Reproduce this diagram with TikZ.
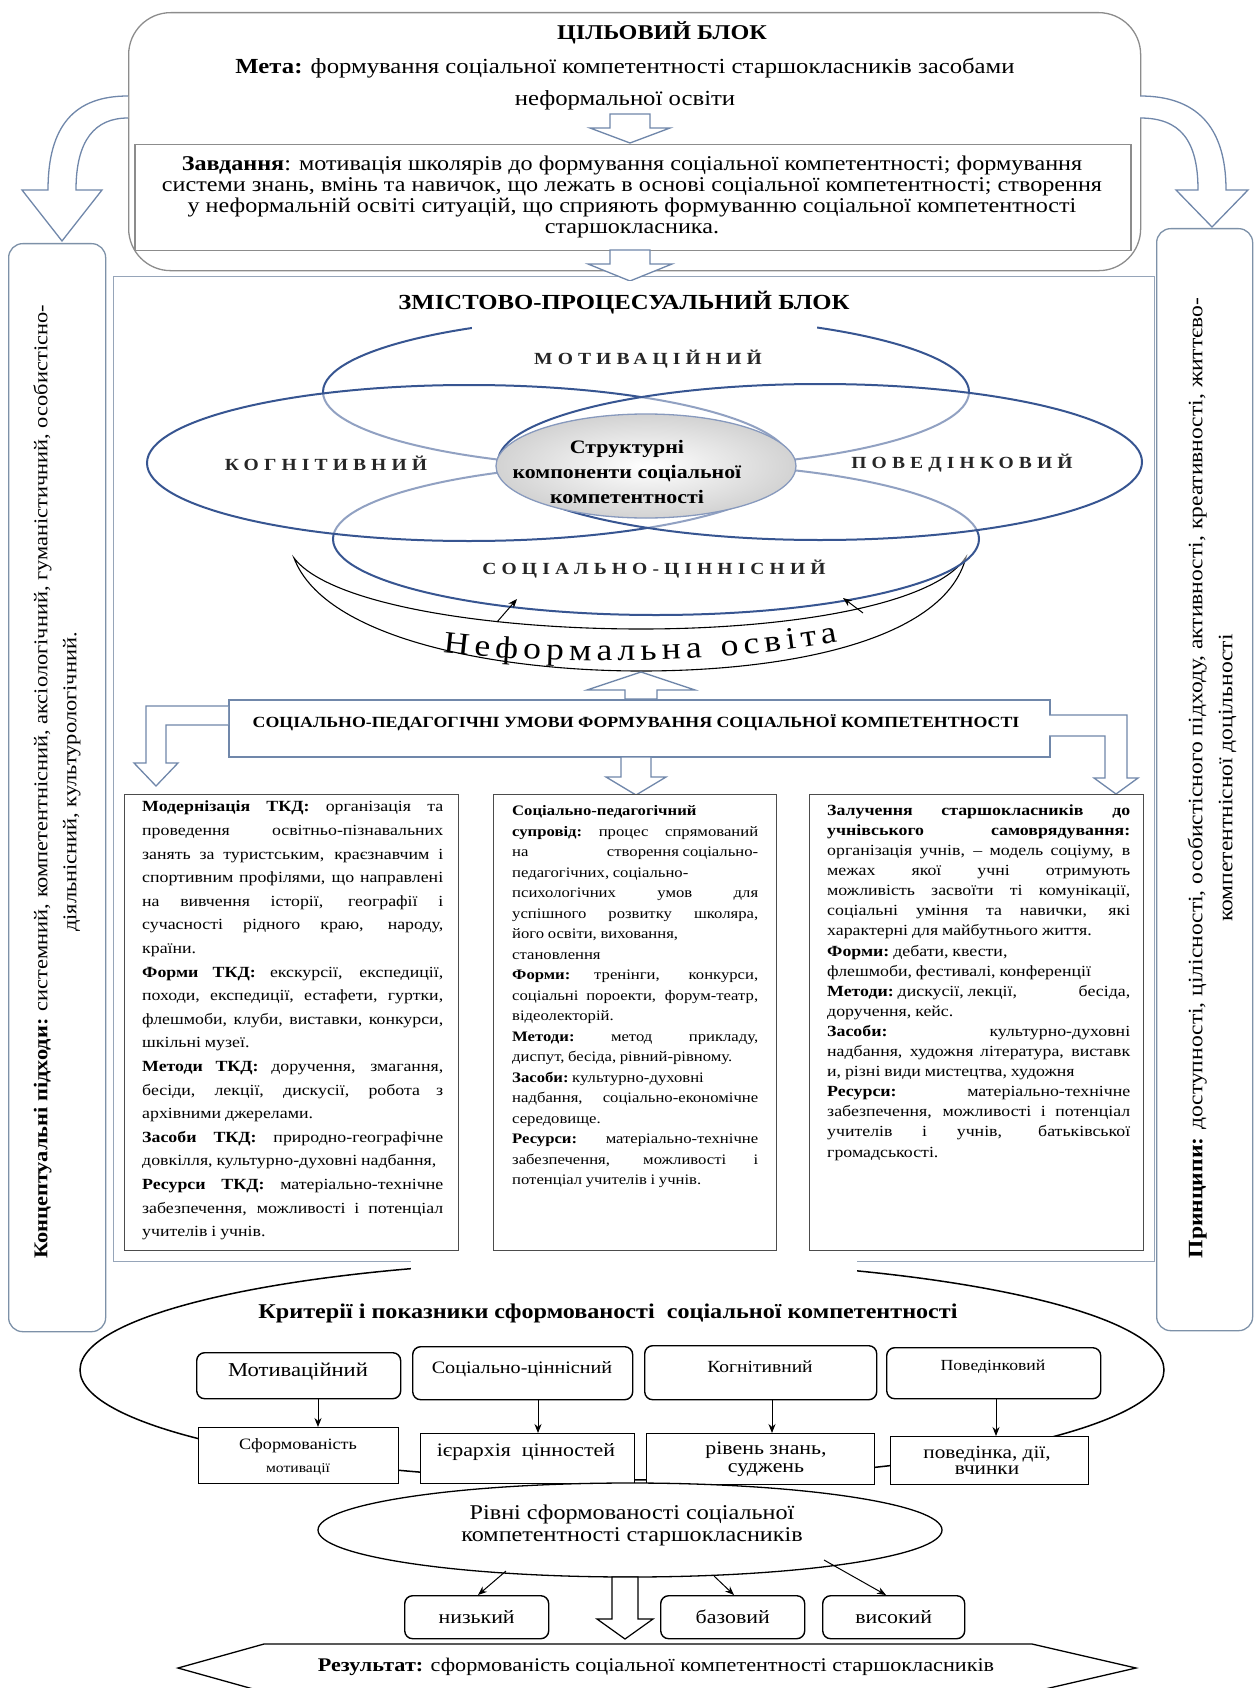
\documentclass[tikz,border=0pt]{standalone}
\usepackage{fontspec}
\setmainfont{Liberation Serif}[FakeStretch=1.15]
\newfontfamily\spacedfont[LetterSpace=30,FakeStretch=1.15]{Liberation Serif}
\usetikzlibrary{shapes.geometric,arrows.meta,decorations.text}
\definecolor{ellblue}{RGB}{55,85,145}
\definecolor{arrblue}{RGB}{112,135,170}
\definecolor{boxgray}{RGB}{140,140,140}
\definecolor{vblue}{RGB}{125,145,168}
\definecolor{contc}{RGB}{150,165,185}
\newcommand\JL[1]{\par\noindent\hbox to\hsize{\spaceskip=.25em plus 1fil minus .08em\xspaceskip=.25em plus 1fil minus .08em\relax #1}}
\newcommand\LL[1]{\par\noindent\hbox to\hsize{\spaceskip=.25em\xspaceskip=.25em\relax #1\hfill}}
\newcommand\fs[2]{\fontsize{#1}{#2}\selectfont}
\newcommand\barrowdown[7]{\draw[#7] (#1-#4,#2) -- (#1-#4,#3-#6) -- (#1-#5,#3-#6) -- (#1,#3) -- (#1+#5,#3-#6) -- (#1+#4,#3-#6) -- (#1+#4,#2) -- cycle;}
\newcommand\barrowup[7]{\draw[#7] (#1-#4,#2) -- (#1-#4,#3+#6) -- (#1-#5,#3+#6) -- (#1,#3) -- (#1+#5,#3+#6) -- (#1+#4,#3+#6) -- (#1+#4,#2) -- cycle;}
\begin{document}
\begin{tikzpicture}[x=1pt,y=-1pt,
  topbox/.style={draw=boxgray, line width=1.3pt, rounded corners=42pt, inner sep=0pt, fill=white},
  taskbox/.style={draw=boxgray, line width=1.5pt, inner sep=0pt, fill=white},
  vbox/.style={draw=vblue, line width=1.3pt, rounded corners=14pt, inner sep=0pt, fill=white},
  content/.style={draw=contc, line width=1.4pt, inner sep=0pt, fill=white},
  barrow/.style={draw=arrblue, line width=1.3pt, fill=white},
  barrowk/.style={draw=black, line width=1.2pt, fill=white},
  condbox/.style={draw=arrblue, line width=1.5pt, inner sep=0pt, fill=white},
  tbox/.style={draw=black!70, line width=1.3pt, inner sep=0pt, fill=white},
  ell/.style={shape=ellipse, draw=ellblue, line width=2pt, fill=white, fill opacity=0.45, inner sep=0pt},
  elab/.style={font={\fs{17}{19}\spacedfont\bfseries}, text=black!85},
  cbox/.style={draw=black, line width=1.4pt, rounded corners=8pt, inner sep=0pt, fill=white},
  sbox/.style={draw=black, line width=1.4pt, inner sep=0pt, fill=white},
  arr/.style={-{Stealth[length=9pt,width=7pt]}, line width=1pt, black}
]
\useasboundingbox (0,0) rectangle (1254,1688);

% ---------- goal block ----------
\node[topbox, anchor=north west, minimum width=1012pt, minimum height=258pt] (goal) at (128,12) {};
\node[font={\fs{21}{24}\bfseries}] (goalT) at (662,33) {ЦІЛЬОВИЙ БЛОК};
\node[font={\fs{21.5}{24}}] (meta) at (625,68) {\textbf{Мета:} формування соціальної компетентності старшокласників засобами};
\node[font={\fs{21.5}{24}}] (meta2) at (625,100) {неформальної освіти};
\barrowdown{630}{114}{143}{20}{40}{15}{barrow}
\node[taskbox, anchor=north west, minimum width=996pt, minimum height=106pt] (task) at (134,144) {};
\node[font={\fs{21}{21.3}}, align=center] (taskT) at (632,197) {\textbf{Завдання}: мотивація школярів до формування соціальної компетентності; формування\\системи знань, вмінь та навичок, що лежать в основі соціальної компетентності; створення\\у неформальній освіті ситуацій, що сприяють формуванню соціальної компетентності\\старшокласника.};

% ---------- side blocks ----------
\draw[barrow] (128,96) .. controls (75,96) and (48,125) .. (48,190) -- (22,190) -- (62,241) -- (102,190) -- (76,190) .. controls (76,140) and (95,118) .. (128,118);
\draw[barrow] (1140,96) .. controls (1195,96) and (1226,125) .. (1226,190) -- (1248,190) -- (1212,227) -- (1176,190) -- (1198,190) .. controls (1198,140) and (1180,118) .. (1140,118);
\node[vbox, anchor=north west, minimum width=97pt, minimum height=1088pt] (appr) at (8,243) {};
\node[rotate=90, align=center, font={\fs{19.5}{29}}] (apprT) at (57,782) {\textbf{Концептуальні підходи:} системний, компетентнісний, аксіологічний, гуманістичний, особистісно-\\діяльнісний, культурологічний.};
\node[vbox, anchor=north west, minimum width=96pt, minimum height=1102pt] (princ) at (1156,228) {};
\node[rotate=90, align=center, font={\fs{20.5}{30}}] (princT) at (1212,778) {\textbf{Принципи:} доступності, цілісності, особистісного підходу, активності, креативності, життєво-\\компетентнісної доцільності};

% ---------- content block ----------
\node[content, anchor=north west, minimum width=1041pt, minimum height=985pt] (cont) at (113,276) {};
\barrowdown{630}{250}{281}{20}{42}{17}{barrow}

% crescent
\draw[black, line width=1.1pt] (294,558) .. controls (325,640) and (500,671) .. (641,671) .. controls (790,671) and (945,640) .. (966,557) .. controls (935,605) and (790,629) .. (641,629) .. controls (490,629) and (330,605) .. (294,558) -- cycle;

% ellipses
\node[ell, minimum width=646pt, minimum height=152pt] (eTop) at (646,392) {};
\node[ell, minimum width=646pt, minimum height=152pt] (eBot) at (656,539) {};
\node[ell, minimum width=644pt, minimum height=156pt] (eLeft) at (469,463) {};
\node[ell, minimum width=644pt, minimum height=156pt] (eRight) at (820,462) {};
\node[shape=ellipse, draw=ellblue!60, line width=1.3pt, inner color=white, outer color=gray!35, minimum width=300pt, minimum height=104pt, inner sep=0pt] (eCen) at (646,466) {};
\node[font={\fs{19}{25}\bfseries}, align=center] (cenT) at (627,472) {Структурні\\компоненти соціальної\\компетентності};
\node[elab] (lMot) at (648,359) {МОТИВАЦІЙНИЙ};
\node[elab] (lKog) at (326,463) {КОГНІТИВНИЙ};
\node[elab] (lPov) at (962,463) {ПОВЕДІНКОВИЙ};
\node[elab] (lSoc) at (654,569) {СОЦІАЛЬНО-ЦІННІСНИЙ};

% title of content block
\fill[white] (472,281) rectangle (817,332);
\node[font={\fs{21.5}{24}\bfseries}] (contT) at (624,303) {ЗМІСТОВО-ПРОЦЕСУАЛЬНИЙ БЛОК};

% small arrows from crescent
\coordinate (sa1) at (497,622);
\coordinate (sa1e) at (517,599);
\coordinate (sa2) at (863,613);
\coordinate (sa2e) at (843,598);
\draw[arr] (sa1) -- (sa1e);
\draw[arr] (sa2) -- (sa2e);

% informal education text
\path[decorate, decoration={text along path, text align=fit to path, text={|\fs{31}{31}|Неформальна освіта}}] (443,652) .. controls (560,666) and (720,664) .. (838,642);

% ---------- conditions ----------
\barrowup{641}{699}{672}{16}{54}{18}{barrow}
\node[condbox, anchor=north west, minimum width=821pt, minimum height=57pt] (cond) at (228,699) {};
\node[font={\fs{15.5}{20}\bfseries}] (condT) at (636,723) {СОЦІАЛЬНО-ПЕДАГОГІЧНІ УМОВИ ФОРМУВАННЯ СОЦІАЛЬНОЇ КОМПЕТЕНТНОСТІ};
\draw[barrow] (228,706) -- (146,706) -- (146,763) -- (134,763) -- (156,786) -- (178,763) -- (166,763) -- (166,725) -- (228,725);
\draw[barrow] (1049,715) -- (1127,715) -- (1127,778) -- (1138,778) -- (1116,794) -- (1094,778) -- (1105,778) -- (1105,736) -- (1049,736);
\barrowdown{636}{757}{795}{15}{30}{18}{barrow}

% ---------- three text boxes ----------
\node[tbox, anchor=north west, minimum width=334pt, minimum height=456pt] (bL) at (124,794) {};
\node[tbox, anchor=north west, minimum width=283pt, minimum height=456pt] (bM) at (493,794) {};
\node[tbox, anchor=north west, minimum width=334pt, minimum height=456pt] (bR) at (809,794) {};

\node[anchor=north west, inner sep=0pt, text width=301pt] (tL) at (142,788) {\fs{15.5}{23.6}%
\JL{\textbf{Модернізація ТКД:} організація та}
\JL{проведення освітньо-пізнавальних}
\JL{занять за туристським, краєзнавчим і}
\JL{спортивним профілями, що направлені}
\JL{на вивчення історії, географії і}
\JL{сучасності рідного краю, народу,}
\LL{країни.}
\JL{\textbf{Форми ТКД:} екскурсії, експедиції,}
\JL{походи, експедиції, естафети, гуртки,}
\JL{флешмоби, клуби, виставки, конкурси,}
\LL{шкільні музеї.}
\JL{\textbf{Методи ТКД:} доручення, змагання,}
\JL{бесіди, лекції, дискусії, робота з}
\LL{архівними джерелами.}
\JL{\textbf{Засоби ТКД:} природно-географічне}
\LL{довкілля, культурно-духовні надбання,}
\JL{\textbf{Ресурси ТКД:} матеріально-технічне}
\JL{забезпечення, можливості і потенціал}
\LL{учителів і учнів.}\par};

\node[anchor=north west, inner sep=0pt, text width=246pt] (tM) at (512,795) {\fs{14.5}{20.5}%
\LL{\textbf{Соціально-педагогічний}}
\JL{\textbf{супровід:} процес спрямований}
\JL{на \hfill створення соціально-}
\LL{педагогічних, соціально-}
\JL{психологічних умов для}
\JL{успішного розвитку школяра,}
\LL{його освіти, виховання,}
\LL{становлення}
\JL{\textbf{Форми:} тренінги, конкурси,}
\JL{соціальні пороекти, форум-театр,}
\LL{відеолекторій.}
\JL{\textbf{Методи:} метод прикладу,}
\LL{диспут, бесіда, рівний-рівному.}
\LL{\textbf{Засоби:} культурно-духовні}
\JL{надбання, соціально-економічне}
\LL{середовище.}
\JL{\textbf{Ресурси:} матеріально-технічне}
\JL{забезпечення, можливості і}
\LL{потенціал учителів і учнів.}\par};

\node[anchor=north west, inner sep=0pt, text width=303pt] (tR) at (827,795) {\fs{15.5}{20.1}%
\JL{\textbf{Залучення старшокласників до}}
\JL{\textbf{учнівського \hfill самоврядування:}}
\JL{організація учнів, – модель соціуму, в}
\JL{межах якої учні отримують}
\JL{можливість засвоїти ті комунікації,}
\JL{соціальні уміння та навички, які}
\LL{характерні для майбутнього життя.}
\LL{\textbf{Форми:} дебати, квести,}
\LL{флешмоби, фестивалі, конференції}
\JL{\textbf{Методи:} дискусії, лекції, \hfill бесіда,}
\LL{доручення, кейс.}
\JL{\textbf{Засоби:} \hfill культурно-духовні}
\JL{надбання, художня література, виставк}
\LL{и, різні види мистецтва, художня}
\JL{\textbf{Ресурси:} \hfill матеріально-технічне}
\JL{забезпечення, можливості і потенціал}
\JL{учителів і учнів, батьківської}
\LL{громадськості.}\par};

% ---------- criteria ----------
\node[shape=ellipse, draw=black, line width=1.5pt, fill=white, minimum width=1084pt, minimum height=220pt, inner sep=0pt] (crit) at (622,1370) {};
\fill[white] (411,1254) rectangle (857,1290);
\node[font={\fs{21}{24}\bfseries}] (critT) at (608,1313) {Критерії і показники сформованості~ соціальної компетентності};

\node[cbox, anchor=north west, minimum width=204pt, minimum height=46pt] (c1) at (196,1352) {};
\node[cbox, anchor=north west, minimum width=220pt, minimum height=53pt] (c2) at (412,1346) {};
\node[cbox, anchor=north west, minimum width=232pt, minimum height=54pt] (c3) at (644,1345) {};
\node[cbox, anchor=north west, minimum width=214pt, minimum height=51pt] (c4) at (886,1347) {};
\node[font={\fs{19.7}{24}}] (c1T) at (298,1372) {Мотиваційний};
\node[font={\fs{17.5}{20}}] (c2T) at (522,1369) {Соціально-ціннісний};
\node[font={\fs{17}{20}}] (c3T) at (760,1367) {Когнітивний};
\node[font={\fs{15.4}{18}}] (c4T) at (993,1367) {Поведінковий};

\node[sbox, anchor=north west, minimum width=200pt, minimum height=56pt] (s1) at (198,1427) {};
\node[sbox, anchor=north west, minimum width=214pt, minimum height=50pt] (s2) at (420,1433) {};
\node[sbox, anchor=north west, minimum width=228pt, minimum height=51pt] (s3) at (646,1433) {};
\node[sbox, anchor=north west, minimum width=198pt, minimum height=48pt] (s4) at (890,1436) {};
\node[align=center, font={\fs{15.8}{23}}] (s1T) at (298,1457) {Сформованість\\{\fs{13.6}{23}мотивації}};
\node[font={\fs{19}{20}}] (s2T) at (526,1452) {ієрархія~ цінностей};
\node[font={\fs{19}{17.5}}, align=center] (s3T) at (766,1459) {рівень знань,\\суджень};
\node[font={\fs{18.5}{16}}, align=center] (s4T) at (987,1460) {поведінка, дії,\\вчинки};

\coordinate (x1) at (318,0);
\coordinate (x2) at (538,0);
\coordinate (x3) at (772,0);
\coordinate (x4) at (996,0);
\draw[arr] (c1.south -| x1) -- (s1.north -| x1);
\draw[arr] (c2.south -| x2) -- (s2.north -| x2);
\draw[arr] (c3.south -| x3) -- (s3.north -| x3);
\draw[arr] (c4.south -| x4) -- (s4.north -| x4);

% ---------- levels ----------
\node[shape=ellipse, draw=black, line width=1.3pt, fill=white, minimum width=624pt, minimum height=94pt, inner sep=0pt] (riv) at (630,1530) {};
\node[font={\fs{21}{22}}, align=center] (rivT) at (632,1525) {Рівні сформованості соціальної\\компетентності старшокласників};

\node[cbox, anchor=north west, minimum width=144pt, minimum height=43pt, font={\fs{19}{22}}] (lv1) at (404,1595) {низький};
\node[cbox, anchor=north west, minimum width=144pt, minimum height=43pt, font={\fs{19}{22}}] (lv2) at (660,1595) {базовий};
\node[cbox, anchor=north west, minimum width=142pt, minimum height=43pt, font={\fs{19}{22}}] (lv3) at (822,1595) {високий};
\coordinate (r1) at (506,1571);
\coordinate (r2) at (714,1576);
\coordinate (r3) at (824,1560);
\coordinate (y1) at (478,0);
\coordinate (y2) at (734,0);
\coordinate (y3) at (886,0);
\draw[arr] (r1) -- (lv1.north -| y1);
\draw[arr] (r2) -- (lv2.north -| y2);
\draw[arr] (r3) -- (lv3.north -| y3);
\barrowdown{625}{1577}{1639}{13}{28}{20}{barrowk}

% ---------- result ----------
\draw[line width=1.3pt, fill=white] (178,1668) -- (264,1644) -- (1032,1644) -- (1136,1668) -- (1032,1692) -- (264,1692) -- cycle;
\node[font={\fs{19.3}{22}}] (res) at (656,1667) {\textbf{Результат:} сформованість соціальної компетентності старшокласників};
\end{tikzpicture}
\end{document}
